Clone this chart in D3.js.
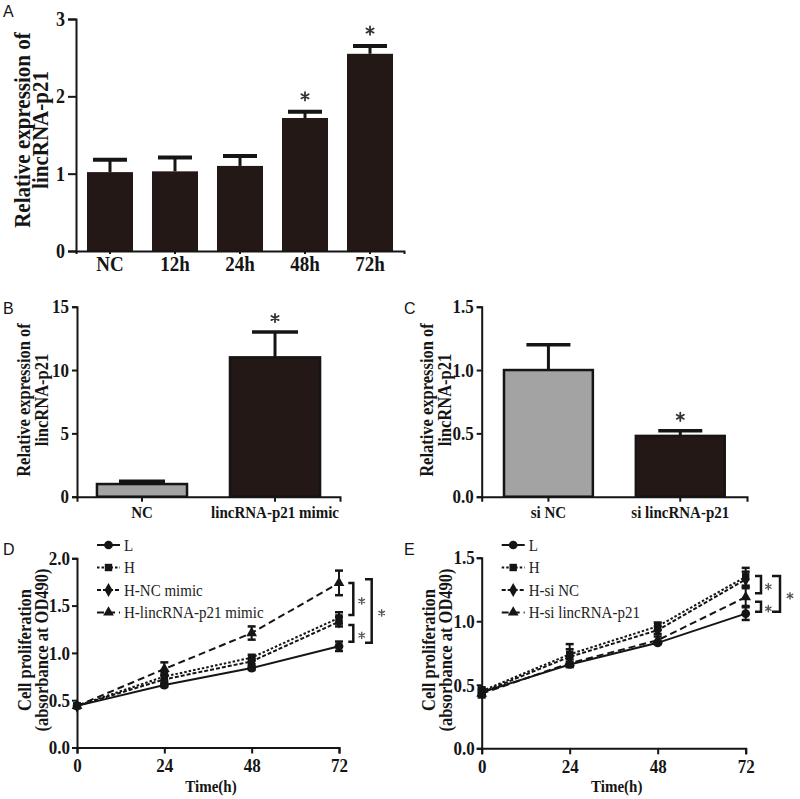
<!DOCTYPE html>
<html><head><meta charset="utf-8">
<script src="https://cdn.jsdelivr.net/npm/d3@7/dist/d3.min.js"></script>
<style>body{margin:0;background:#fff}</style>
</head><body>
<svg id="chart" width="800" height="799"></svg>
<script>
// ---------- Data ----------
// Panel A
const catsA = ["NC", "12h", "24h", "48h", "72h"];
const valsA = [1.02, 1.03, 1.10, 1.72, 2.55];
const errsA = [0.16, 0.18, 0.13, 0.08, 0.10];
const sigA = [false, false, false, true, true];
const ticksA = [0, 1, 2, 3];
// Panel B
const catsB = ["NC", "lincRNA-p21 mimic"];
const valsB = [1.0, 11.0];
const errsB = [0.22, 2.0];
const sigB = [false, true];
const ticksB = [0, 5, 10, 15];
// Panel C
const catsC = ["si NC", "si lincRNA-p21"];
const valsC = [1.0, 0.48];
const errsC = [0.20, 0.04];
const sigC = [false, true];
const ticksC = [0, 0.5, 1.0, 1.5];
// Panel D
const timeH = [0, 24, 48, 72];
const namesD = ["L", "H", "H-NC mimic", "H-lincRNA-p21 mimic"];
const dL = [0.44, 0.66, 0.84, 1.07];
const dH = [0.44, 0.75, 0.95, 1.37];
const dHNC = [0.44, 0.72, 0.91, 1.33];
const dHmim = [0.44, 0.83, 1.21, 1.74];
const eDL = [0.02, 0.02, 0.02, 0.05];
const eDH = [0.02, 0.05, 0.03, 0.06];
const eDHNC = [0.02, 0.05, 0.03, 0.05];
const eDHmim = [0.02, 0.07, 0.07, 0.13];
const ticksD = [0, 0.5, 1.0, 1.5, 2.0];
const bracketsD = [[1.74, 1.40], [1.295, 1.118], [1.778, 1.108]];
// Panel E
const namesE = ["L", "H", "H-si NC", "H-si lincRNA-p21"];
const eL = [0.44, 0.66, 0.83, 1.06];
const eH = [0.45, 0.74, 0.96, 1.35];
const eHNC = [0.44, 0.72, 0.93, 1.33];
const eHsi = [0.43, 0.67, 0.85, 1.19];
const eEL = [0.03, 0.02, 0.01, 0.05];
const eEH = [0.03, 0.08, 0.03, 0.07];
const eEHNC = [0.02, 0.06, 0.03, 0.06];
const eEHsi = [0.03, 0.03, 0.03, 0.07];
const ticksE = [0, 0.5, 1.0, 1.5];
const bracketsE = [[1.356, 1.22], [1.154, 1.075], [1.356, 1.075]];

// ---------- Styles ----------
const serif = "'Liberation Serif','Times New Roman',serif";
const sans = "'Liberation Sans',Arial,sans-serif";
const ink = "#151515";
const dark = "#231815";
const gray = "#a3a3a3";
const TALL = 1.15;

const svg = d3.select("#chart");

function tallText(sel, k) {
  sel.each(function () {
    const t = d3.select(this);
    const fs = +t.attr("font-size");
    const w0 = this.getComputedTextLength();
    t.attr("font-size", fs * k);
    t.attr("textLength", w0).attr("lengthAdjust", "spacingAndGlyphs");
  });
}

function styleAxis(g, fs) {
  g.selectAll("path.domain").attr("stroke", ink).attr("stroke-width", 2);
  g.selectAll(".tick line").attr("stroke", ink).attr("stroke-width", 2);
  g.selectAll(".tick text").attr("font-family", serif).attr("font-weight", "bold")
    .attr("font-size", fs).attr("fill", ink).classed("tall", true);
}

function panelLetter(txt, x, y) {
  svg.append("text").attr("x", x).attr("y", y).text(txt)
    .attr("font-family", sans).attr("font-size", 16).attr("fill", ink);
}

function yTitle(lines, x1, x2, cy, fs) {
  [x1, x2].forEach((x, i) => {
    svg.append("text").attr("transform", `translate(${x},${cy}) rotate(-90)`)
      .attr("text-anchor", "middle").attr("font-family", serif).attr("font-weight", "bold")
      .attr("font-size", fs).attr("fill", ink).classed("rot", true).text(lines[i]);
  });
}

// asterisk drawn as a small six-spoke mark centred on (x, y)
function star(g, x, y, r, color) {
  const d = d3.range(3).map(i => {
    const a = Math.PI / 2 + i * Math.PI / 3;
    const dx = r * Math.cos(a), dy = r * Math.sin(a);
    return `M${x - dx},${y - dy}L${x + dx},${y + dy}`;
  }).join("");
  g.append("path").attr("d", d).attr("stroke", color).attr("stroke-width", r * 0.42)
    .attr("stroke-linecap", "round").attr("fill", "none");
}

function barPanel(o) {
  const x = d3.scaleBand().domain(o.cats).range(o.xr).paddingInner(o.pi).paddingOuter(o.po);
  const y = d3.scaleLinear().domain([0, o.ymax]).range(o.yr);
  const g = svg.append("g");
  g.selectAll("rect.bar").data(o.cats).join("rect")
    .attr("x", d => x(d)).attr("width", x.bandwidth())
    .attr("y", (d, i) => y(o.vals[i])).attr("height", (d, i) => y(0) - y(o.vals[i]))
    .attr("fill", (d, i) => o.fills[i]).attr("stroke", o.stroke ? ink : "none").attr("stroke-width", o.stroke || 0);
  o.cats.forEach((d, i) => {
    const cx = x(d) + x.bandwidth() / 2;
    const top = y(o.vals[i] + o.errs[i]);
    g.append("line").attr("x1", cx).attr("x2", cx).attr("y1", y(o.vals[i])).attr("y2", top)
      .attr("stroke", ink).attr("stroke-width", 3);
    g.append("line").attr("x1", cx - o.cap).attr("x2", cx + o.cap).attr("y1", top).attr("y2", top)
      .attr("stroke", ink).attr("stroke-width", o.capW);
    if (o.sig[i]) star(g, cx, top - o.starOff, 4.2, "#333");
  });
  const ax = svg.append("g").attr("transform", `translate(${o.xr[0]},0)`)
    .call(d3.axisLeft(y).tickValues(o.ticks).tickFormat(o.fmt).tickSizeOuter(0).tickSize(o.ytick).tickPadding(o.ypad));
  styleAxis(ax, o.yfs);
  const bx = svg.append("g").attr("transform", `translate(0,${o.yr[0]})`)
    .call(d3.axisBottom(x).tickSizeOuter(0).tickSize(o.xtick).tickPadding(o.xpad));
  styleAxis(bx, o.xfs);
}

// Panel A
barPanel({cats: catsA, vals: valsA, errs: errsA, sig: sigA, ticks: ticksA, ymax: 3,
  xr: [76, 404], yr: [251, 19], pi: 0.292, po: 0.169, fills: catsA.map(() => dark), stroke: 0,
  cap: 17, capW: 4, starOff: 15.5, fmt: d3.format("d"), ytick: 8, ypad: 3, yfs: 18,
  xtick: 3, xpad: 1, xfs: 19});
panelLetter("A", 3, 17);
yTitle(["Relative expression of", "lincRNA-p21"], 30, 48, 130, 21);

// Panel B
barPanel({cats: catsB, vals: valsB, errs: errsB, sig: sigB, ticks: ticksB, ymax: 15,
  xr: [77, 340], yr: [496.7, 306.7], pi: 0.323, po: 0.15, fills: [gray, dark], stroke: 2.5,
  cap: 23, capW: 3.5, starOff: 14, fmt: d3.format("d"), ytick: 5, ypad: 3, yfs: 17,
  xtick: 5, xpad: 4, xfs: 15});
panelLetter("B", 3, 314);
yTitle(["Relative expression of", "lincRNA-p21"], 30, 47.5, 400, 16.5);

// Panel C
barPanel({cats: catsC, vals: valsC, errs: errsC, sig: sigC, ticks: ticksC, ymax: 1.5,
  xr: [481.7, 747], yr: [496.7, 306.7], pi: 0.326, po: 0.169, fills: [gray, dark], stroke: 2.5,
  cap: 22, capW: 3.5, starOff: 14, fmt: d3.format(".1f"), ytick: 5, ypad: 3, yfs: 17,
  xtick: 5, xpad: 4, xfs: 15});
panelLetter("C", 404, 314);
yTitle(["Relative expression of", "lincRNA-p21"], 433, 450.5, 400, 16.5);

// ---------- Line panels ----------
const dashes = [null, "2.5,2", "4,2", "7,4"];
const symbols = [d3.symbolCircle, d3.symbolSquare, d3.symbolDiamond, d3.symbolTriangle];
const symSizes = [60, 55, 55, 50];

function linePanel(o) {
  const x = d3.scaleLinear().domain([0, 72]).range(o.xr);
  const y = d3.scaleLinear().domain([0, o.ymax]).range(o.yr);
  const g = svg.append("g");
  const line = d3.line().x((d, i) => x(timeH[i])).y(d => y(d));
  o.series.forEach((s, k) => {
    g.append("path").datum(s).attr("d", line).attr("fill", "none").attr("stroke", ink)
      .attr("stroke-width", 2).attr("stroke-dasharray", dashes[k]);
  });
  o.series.forEach((s, k) => {
    s.forEach((v, i) => {
      const cx = x(timeH[i]);
      const e = o.errs[k][i];
      g.append("line").attr("x1", cx).attr("x2", cx).attr("y1", y(v - e)).attr("y2", y(v + e))
        .attr("stroke", ink).attr("stroke-width", 2);
      [v - e, v + e].forEach(t => g.append("line").attr("x1", cx - 4).attr("x2", cx + 4)
        .attr("y1", y(t)).attr("y2", y(t)).attr("stroke", ink).attr("stroke-width", 2.5));
      g.append("path").attr("d", d3.symbol(symbols[k], symSizes[k])())
        .attr("transform", `translate(${cx},${y(v)})`).attr("fill", ink);
    });
  });
  const x72 = x(72);
  o.brackets.forEach((b, j) => {
    const bx = x72 + o.bx[j], tx = bx - o.bt[j];
    const y1 = y(b[0]), y2 = y(b[1]);
    g.append("path").attr("d", `M${tx},${y1}H${bx}V${y2}H${tx}`).attr("fill", "none")
      .attr("stroke", ink).attr("stroke-width", 2.5);
    star(g, x72 + o.sx[j], (y1 + y2) / 2 + 2, 3.2, "#555");
  });
  o.names.forEach((n, k) => {
    const ly = 545 + k * 22.5;
    const lx = o.xr[0];
    g.append("line").attr("x1", lx + 20).attr("x2", lx + 43).attr("y1", ly).attr("y2", ly)
      .attr("stroke", ink).attr("stroke-width", 2).attr("stroke-dasharray", dashes[k]);
    g.append("path").attr("d", d3.symbol(symbols[k], symSizes[k])())
      .attr("transform", `translate(${lx + 31.5},${ly})`).attr("fill", ink);
    g.append("text").attr("x", lx + 47).attr("y", ly + 5.5).attr("font-family", serif)
      .attr("font-size", 15).attr("fill", "#222").classed("tall", true).text(n);
  });
  const ax = svg.append("g").attr("transform", `translate(${o.xr[0]},0)`)
    .call(d3.axisLeft(y).tickValues(o.ticks).tickFormat(d3.format(".1f")).tickSizeOuter(0).tickSize(5).tickPadding(2));
  styleAxis(ax, 17);
  const bxa = svg.append("g").attr("transform", `translate(0,${o.yr[0]})`)
    .call(d3.axisBottom(x).tickValues(timeH).tickFormat(d3.format("d")).tickSizeOuter(0).tickSize(6).tickPadding(5));
  styleAxis(bxa, 17);
  svg.append("text").attr("x", (o.xr[0] + o.xr[1]) / 2 + 3).attr("y", 792).attr("text-anchor", "middle")
    .attr("font-family", serif).attr("font-weight", "bold").attr("font-size", 15).attr("fill", ink)
    .classed("tall", true).text("Time(h)");
}

linePanel({xr: [77, 339], yr: [747.5, 558.3], ymax: 2.0, ticks: ticksD,
  series: [dL, dH, dHNC, dHmim], errs: [eDL, eDH, eDHNC, eDHmim], names: namesD,
  brackets: bracketsD, bx: [14.3, 14.3, 32.7], bt: [5, 5, 6.7], sx: [22.7, 22.7, 42.7]});
panelLetter("D", 3, 555);
yTitle(["Cell proliferation", "(absorbance at OD490)"], 30.5, 47.5, 650, 16.5);

linePanel({xr: [481.7, 745.7], yr: [748.3, 557.7], ymax: 1.5, ticks: ticksE,
  series: [eL, eH, eHNC, eHsi], errs: [eEL, eEH, eEHNC, eEHsi], names: namesE,
  brackets: bracketsE, bx: [15.3, 15.3, 34.3], bt: [6, 6, 8], sx: [22.6, 22.6, 44.3]});
panelLetter("E", 404, 555);
yTitle(["Cell proliferation", "(absorbance at OD490)"], 434.5, 451.5, 650, 16.5);

tallText(svg.selectAll("text.tall"), TALL);
tallText(svg.selectAll("text.rot"), 1.1);
</script>
</body></html>
